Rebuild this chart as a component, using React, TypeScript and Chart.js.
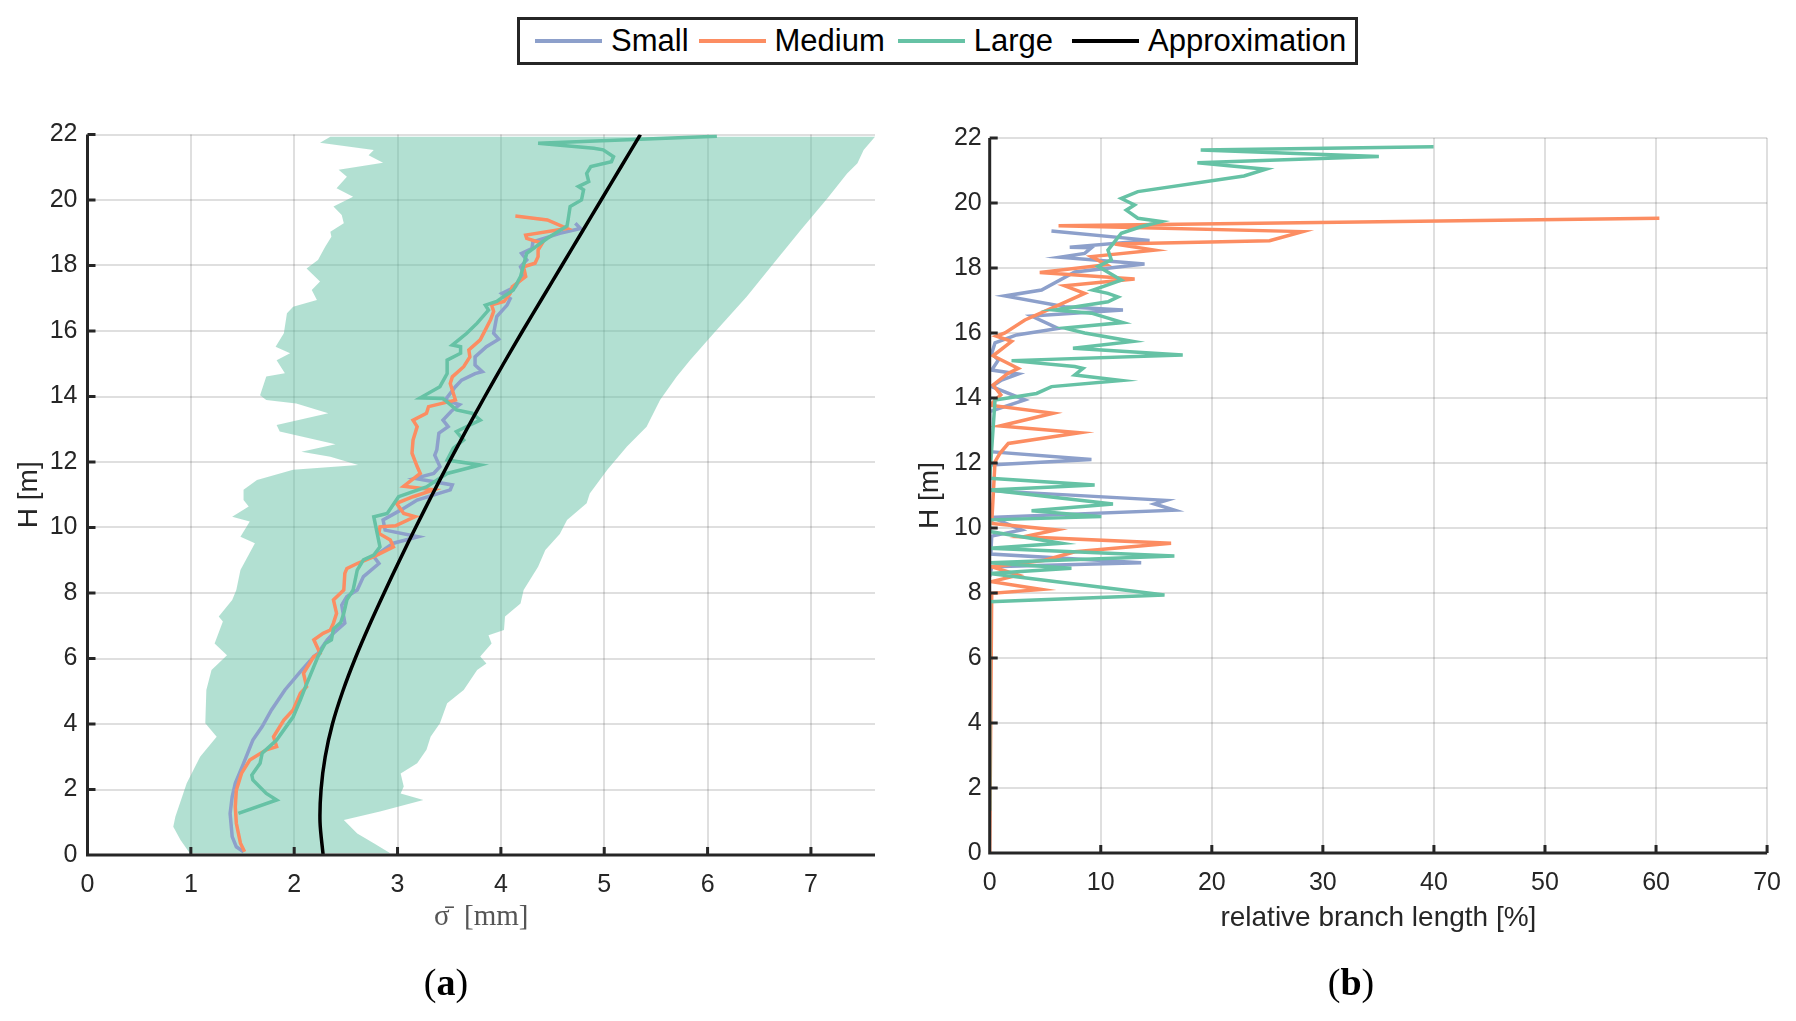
import { useEffect, useRef } from 'react'
import { Chart, registerables } from 'chart.js'
import type { Plugin } from 'chart.js'

Chart.register(...registerables)

const SMALL = '#8da0cb'
const MEDIUM = '#fc8d62'
const LARGE = '#66c2a5'
const BAND = 'rgba(102, 194, 165, 0.5)'
const AXIS = '#262626'
const GRID = 'rgba(38, 38, 38, 0.15)'
const SANS = "'Liberation Sans', Arial, Helvetica, sans-serif"
const SERIF = "'Liberation Serif', 'Times New Roman', serif"

// (a) mean sigma [mm] against height H [m]
const smallH = [0.10, 0.25, 0.56, 1.27, 1.78, 2.19, 2.80, 3.51, 3.92, 4.43, 5.04, 5.60, 6.06, 6.16, 6.57, 6.77, 7.08, 7.63, 7.89, 8.09, 8.50, 8.90, 9.11, 9.52, 9.72, 9.92, 10.23, 10.53, 10.84, 11.15, 11.30, 11.50, 11.65, 11.86, 12.21, 12.37, 12.88, 13.08, 13.28, 13.55, 13.75, 13.89, 14.30, 14.50, 14.70, 14.76, 14.96, 15.21, 15.52, 15.75, 15.93, 16.44, 16.79, 16.99, 17.15, 17.35, 17.76, 17.96, 18.17, 18.37, 18.52, 18.72, 18.98, 19.13, 19.29]
const smallSigma = [1.51, 1.44, 1.40, 1.38, 1.40, 1.43, 1.51, 1.60, 1.69, 1.78, 1.91, 2.06, 2.19, 2.23, 2.32, 2.38, 2.49, 2.46, 2.51, 2.61, 2.67, 2.82, 2.77, 2.96, 3.20, 2.88, 2.86, 3.03, 3.19, 3.51, 3.53, 3.17, 3.35, 3.41, 3.36, 3.38, 3.40, 3.49, 3.44, 3.52, 3.60, 3.46, 3.56, 3.62, 3.75, 3.82, 3.75, 3.75, 3.86, 3.98, 3.93, 3.96, 4.06, 4.09, 4.01, 4.14, 4.22, 4.19, 4.25, 4.20, 4.30, 4.31, 4.57, 4.77, 4.72]

const mediumH = [0.10, 0.36, 0.97, 1.47, 1.98, 2.49, 2.90, 3.21, 3.31, 3.61, 4.12, 4.43, 4.94, 5.14, 5.55, 6.06, 6.16, 6.57, 6.77, 6.87, 7.08, 7.38, 7.79, 8.09, 8.60, 8.75, 8.90, 9.11, 9.41, 9.62, 9.82, 10.02, 10.05, 10.33, 10.43, 10.74, 10.94, 11.15, 11.26, 11.65, 11.86, 12.27, 12.67, 13.08, 13.28, 13.49, 13.69, 13.79, 13.89, 14.40, 14.60, 14.91, 15.21, 15.42, 15.73, 16.34, 16.60, 16.80, 16.90, 17.15, 17.35, 17.66, 17.96, 18.07, 18.27, 18.47, 18.68, 18.83, 18.93, 19.13, 19.39, 19.51]
const mediumSigma = [1.52, 1.48, 1.44, 1.43, 1.44, 1.49, 1.57, 1.73, 1.83, 1.80, 1.90, 1.99, 2.06, 2.12, 2.09, 2.19, 2.25, 2.19, 2.28, 2.35, 2.38, 2.41, 2.38, 2.48, 2.49, 2.51, 2.61, 2.77, 2.96, 2.93, 2.82, 2.83, 2.98, 3.17, 3.06, 2.99, 3.15, 3.35, 3.06, 3.22, 3.19, 3.14, 3.15, 3.19, 3.15, 3.28, 3.30, 3.43, 3.56, 3.51, 3.53, 3.64, 3.70, 3.69, 3.80, 3.90, 3.93, 3.91, 4.03, 4.09, 4.11, 4.24, 4.22, 4.33, 4.36, 4.36, 4.40, 4.25, 4.24, 4.64, 4.45, 4.14]

const largeH = [1.27, 1.68, 1.88, 2.29, 2.44, 2.80, 3.11, 3.51, 4.22, 4.74, 5.14, 5.60, 6.06, 6.46, 6.57, 6.90, 7.10, 7.38, 7.79, 8.09, 8.70, 9.01, 9.16, 9.41, 10.33, 10.43, 10.94, 11.24, 11.65, 11.91, 12.06, 12.42, 12.67, 12.93, 13.28, 13.49, 13.59, 13.94, 13.96, 14.30, 14.70, 15.11, 15.32, 15.52, 15.57, 15.93, 16.24, 16.64, 16.79, 16.90, 17.25, 17.66, 18.37, 18.83, 19.21, 19.39, 19.80, 20.00, 20.31, 20.41, 20.56, 20.81, 21.02, 21.17, 21.32, 21.53, 21.58, 21.73, 21.95]
const largeSigma = [1.46, 1.83, 1.73, 1.60, 1.59, 1.67, 1.69, 1.83, 1.99, 2.06, 2.11, 2.17, 2.23, 2.30, 2.36, 2.38, 2.45, 2.48, 2.51, 2.57, 2.61, 2.67, 2.77, 2.83, 2.77, 2.90, 3.01, 3.28, 3.48, 3.80, 3.48, 3.54, 3.64, 3.57, 3.80, 3.72, 3.57, 3.44, 3.22, 3.41, 3.48, 3.48, 3.61, 3.61, 3.53, 3.67, 3.77, 3.88, 3.85, 3.96, 4.12, 4.19, 4.25, 4.45, 4.64, 4.65, 4.67, 4.78, 4.80, 4.75, 4.85, 4.83, 4.87, 5.07, 5.09, 4.99, 4.90, 4.36, 6.09]

const approxH = [0, 1, 2, 3, 4, 5, 6, 7, 8, 9, 10, 11, 12, 13, 14, 15, 16, 17, 18, 19, 20, 21, 22]
const approxSigma = [2.28, 2.25, 2.26, 2.30, 2.37, 2.47, 2.59, 2.725, 2.87, 3.02, 3.175, 3.335, 3.50, 3.67, 3.845, 4.025, 4.21, 4.40, 4.59, 4.78, 4.97, 5.16, 5.35]

// spread of the Large class: left edge (rising H), right edge (falling H)
const bandLeftH = [0.05, 0.46, 0.86, 1.17, 2.19, 3.00, 3.61, 4.02, 5.04, 5.65, 6.10, 6.46, 7.13, 7.28, 7.79, 8.09, 8.70, 9.52, 9.72, 10.18, 10.33, 10.64, 10.84, 11.15, 11.45, 11.76, 11.91, 12.16, 12.31, 12.54, 12.93, 13.13, 13.49, 13.79, 13.89, 14.04, 14.61, 14.71, 15.11, 15.32, 15.52, 15.93, 16.54, 16.74, 16.95, 17.25, 17.51, 17.91, 18.17, 18.57, 18.88, 19.03, 19.29, 19.54, 19.80, 20.10, 20.36, 20.71, 20.92, 21.14, 21.37, 21.53, 21.75, 21.93]
const bandLeftSigma = [0.99, 0.90, 0.83, 0.85, 0.96, 1.09, 1.25, 1.14, 1.15, 1.20, 1.35, 1.23, 1.31, 1.27, 1.40, 1.44, 1.48, 1.62, 1.48, 1.57, 1.40, 1.56, 1.51, 1.51, 1.64, 1.99, 2.62, 2.35, 2.07, 2.40, 1.86, 1.83, 2.33, 2.02, 1.73, 1.67, 1.73, 1.91, 1.83, 1.96, 1.82, 1.90, 1.93, 1.99, 2.22, 2.17, 2.25, 2.12, 2.23, 2.30, 2.36, 2.35, 2.48, 2.46, 2.38, 2.57, 2.41, 2.51, 2.43, 2.86, 2.72, 2.77, 2.25, 2.35]
const bandRightH = [21.93, 21.53, 21.12, 20.81, 20.05, 19.08, 18.07, 17.05, 15.93, 15.11, 14.60, 13.89, 13.08, 12.47, 11.76, 11.04, 10.74, 10.23, 9.80, 9.31, 8.80, 8.09, 7.68, 7.28, 6.87, 6.71, 6.46, 6.06, 5.85, 5.65, 5.04, 4.63, 4.02, 3.61, 3.21, 2.80, 2.49, 2.09, 1.88, 1.68, 1.33, 1.07, 0.66, 0.36, 0.05]
const bandRightSigma = [7.62, 7.51, 7.45, 7.35, 7.16, 6.90, 6.64, 6.38, 6.06, 5.83, 5.70, 5.54, 5.41, 5.22, 5.03, 4.86, 4.83, 4.64, 4.57, 4.43, 4.36, 4.22, 4.19, 4.04, 4.03, 3.88, 3.91, 3.80, 3.86, 3.77, 3.64, 3.48, 3.41, 3.32, 3.28, 3.19, 3.03, 3.06, 3.03, 3.25, 2.83, 2.48, 2.61, 2.77, 2.93]

// (b) relative branch length [%] against height H [m]
const branchSmallH = [8.50, 8.81, 8.93, 9.20, 9.75, 9.94, 10.33, 10.55, 10.74, 10.85, 11.15, 11.94, 12.11, 12.35, 13.58, 13.94, 14.35, 14.55, 14.74, 14.86, 15.17, 15.37, 15.70, 15.94, 16.14, 16.52, 16.71, 16.81, 17.14, 17.32, 17.88, 18.12, 18.33, 18.45, 18.62, 18.64, 18.85, 19.14]
const branchSmall = [0, 0.18, 13.64, 0.1, 0.18, 2.87, 0.18, 16.63, 14.84, 15.89, 0, 0, 9.16, 0, 0, 3.17, 0.18, 1.07, 2.57, 0.18, 0.78, 0.18, 0.48, 2.42, 6.16, 3.77, 12.0, 6.76, 1.37, 4.67, 7.66, 13.94, 6.31, 8.55, 9.15, 7.21, 14.39, 5.56]

const branchMediumH = [0, 7.99, 8.11, 8.35, 8.55, 8.81, 9.01, 9.27, 9.53, 9.73, 9.94, 10.14, 12.04, 12.30, 12.60, 12.93, 13.14, 13.53, 13.78, 14.10, 14.40, 14.75, 14.91, 15.30, 15.74, 15.90, 16.00, 16.40, 16.78, 17.22, 17.45, 17.66, 17.86, 18.10, 18.35, 18.55, 18.74, 18.84, 19.12, 19.30, 19.53]
const branchMedium = [0, 0.18, 4.67, 0.18, 2.57, 0.18, 4.96, 7.66, 16.33, 3.02, 6.01, 0.18, 0.48, 0.92, 1.67, 8.1, 0.92, 5.71, 0.03, 1.0, 0.3, 1.6, 2.57, 0.3, 1.97, 0.6, 1.37, 3.17, 5.7, 8.55, 6.76, 13.05, 4.51, 10.5, 9.16, 14.84, 11.25, 25.2, 28.15, 6.2, 60.3]

const branchLargeH = [1.30, 7.73, 7.94, 8.60, 8.76, 8.93, 9.14, 9.38, 9.53, 9.89, 10.25, 10.35, 10.53, 10.74, 11.17, 11.32, 11.53, 13.94, 14.14, 14.35, 14.54, 14.71, 14.91, 14.97, 15.15, 15.32, 15.53, 15.74, 16.00, 16.15, 16.32, 16.61, 16.71, 16.96, 17.11, 17.22, 17.32, 17.63, 18.05, 18.25, 18.55, 19.07, 19.27, 19.43, 19.53, 19.78, 19.94, 20.14, 20.35, 20.83, 21.04, 21.24, 21.43, 21.63, 21.73]
const branchLarge = [0, 0, 15.74, 0, 7.36, 0, 16.63, 0, 6.46, 0, 0, 10.05, 3.77, 11.1, 0, 9.45, 0, 0.48, 4.22, 5.57, 11.85, 7.66, 8.4, 7.66, 1.97, 17.38, 7.5, 12.89, 8.55, 6.76, 12.0, 9.16, 5.86, 10.65, 11.55, 10.65, 9.3, 11.85, 9.75, 10.95, 10.65, 11.85, 13.6, 15.44, 13.34, 12.3, 13.04, 11.85, 13.34, 22.9, 24.87, 18.7, 35.04, 19.0, 39.97]

const legendItems = [
  { label: 'Small', color: SMALL, gap: 10 },
  { label: 'Medium', color: MEDIUM, gap: 13 },
  { label: 'Large', color: LARGE, gap: 19 },
  { label: 'Approximation', color: '#000000', gap: 0 },
]

const zip = (xs: number[], ys: number[]) => xs.map((x, i) => ({ x, y: ys[i] }))

function lineSet(label: string, data: { x: number; y: number }[], color: string, tension = 0) {
  return {
    label,
    data,
    borderColor: color,
    backgroundColor: color,
    borderWidth: 3.5,
    pointRadius: 0,
    tension,
    fill: false,
  }
}

// axis lines and inward tick marks, drawn on top like the source figure
const axesOnTop: Plugin = {
  id: 'axesOnTop',
  afterDraw(chart) {
    const { ctx, chartArea: a, scales } = chart
    const x = scales.x
    const y = scales.y
    ctx.save()
    ctx.strokeStyle = AXIS
    ctx.lineWidth = 3
    ctx.beginPath()
    ctx.moveTo(a.left, a.top)
    ctx.lineTo(a.left, a.bottom)
    ctx.lineTo(a.right, a.bottom)
    x.ticks.forEach((t) => {
      const px = x.getPixelForValue(t.value)
      ctx.moveTo(px, a.bottom)
      ctx.lineTo(px, a.bottom - 8)
    })
    y.ticks.forEach((t) => {
      const py = y.getPixelForValue(t.value)
      ctx.moveTo(a.left, py)
      ctx.lineTo(a.left + 8, py)
    })
    ctx.stroke()
    ctx.restore()
  },
}

interface AxisCfg {
  xMax: number
  xStep: number
  xTitle: string
  xTitleFont: { family: string; size: number }
  xTitleColor: string
  yAxisWidth: number
  xAxisHeight: number
  padding: { top: number; right: number; left: number; bottom: number }
  yTitlePad: number
  yTickPad: number
}

function makeOptions(c: AxisCfg): any {
  const tickFont = { family: SANS, size: 25 }
  return {
    responsive: false,
    animation: false,
    layout: { padding: c.padding },
    plugins: { legend: { display: false }, tooltip: { enabled: false } },
    scales: {
      x: {
        type: 'linear',
        min: 0,
        max: c.xMax,
        afterFit: (s: any) => { s.height = c.xAxisHeight },
        ticks: { stepSize: c.xStep, includeBounds: false, padding: 15, color: AXIS, font: tickFont },
        grid: { color: GRID, lineWidth: 2, drawTicks: false },
        border: { display: false },
        title: {
          display: true,
          text: c.xTitle,
          color: c.xTitleColor,
          font: c.xTitleFont,
          padding: { top: 0, bottom: 35 },
        },
      },
      y: {
        type: 'linear',
        min: 0,
        max: 22,
        afterFit: (s: any) => { s.width = c.yAxisWidth },
        ticks: { stepSize: 2, padding: c.yTickPad, color: AXIS, font: tickFont },
        grid: { color: GRID, lineWidth: 2, drawTicks: false },
        border: { display: false },
        title: {
          display: true,
          text: 'H [m]',
          color: AXIS,
          font: { family: SANS, size: 28 },
          padding: { top: c.yTitlePad, bottom: 0 },
        },
      },
    },
  }
}

function Legend() {
  return (
    <div
      style={{
        position: 'absolute',
        left: 517,
        top: 17,
        width: 841,
        height: 48,
        boxSizing: 'border-box',
        border: `3px solid ${AXIS}`,
        display: 'flex',
        alignItems: 'center',
        paddingLeft: 15,
        fontFamily: SANS,
        fontSize: 31,
        color: '#000',
        background: '#fff',
      }}
    >
      {legendItems.map((it) => (
        <div key={it.label} style={{ display: 'flex', alignItems: 'center', marginRight: it.gap }}>
          <span style={{ display: 'inline-block', width: 67, height: 4, background: it.color, marginRight: 9 }} />
          <span>{it.label}</span>
        </div>
      ))}
    </div>
  )
}

export default function App() {
  const leftRef = useRef<HTMLCanvasElement>(null)
  const rightRef = useRef<HTMLCanvasElement>(null)

  useEffect(() => {
    if (!leftRef.current || !rightRef.current) return

    const band = [...zip(bandLeftSigma, bandLeftH), ...zip(bandRightSigma, bandRightH)]

    const left = new Chart(leftRef.current, {
      type: 'line',
      data: {
        datasets: [
          lineSet('Approximation', zip(approxSigma, approxH), '#000000', 0.3),
          lineSet('Large', zip(largeSigma, largeH), LARGE),
          lineSet('Medium', zip(mediumSigma, mediumH), MEDIUM),
          lineSet('Small', zip(smallSigma, smallH), SMALL),
          {
            label: 'Large spread',
            data: band,
            borderWidth: 0,
            borderColor: 'rgba(0,0,0,0)',
            backgroundColor: BAND,
            pointRadius: 0,
            fill: 'shape',
          },
        ],
      },
      options: makeOptions({
        xMax: 7.62,
        xStep: 1,
        xTitle: 'σ̄  [mm]',
        xTitleFont: { family: SERIF, size: 29 },
        xTitleColor: '#555555',
        yAxisWidth: 87.5,
        xAxisHeight: 115,
        padding: { top: 34.5, right: 25, left: 0, bottom: 0 },
        yTitlePad: 12,
        yTickPad: 10,
      }),
      plugins: [axesOnTop],
    } as any)

    const right = new Chart(rightRef.current, {
      type: 'line',
      data: {
        datasets: [
          lineSet('Large', zip(branchLarge, branchLargeH), LARGE),
          lineSet('Medium', zip(branchMedium, branchMediumH), MEDIUM),
          lineSet('Small', zip(branchSmall, branchSmallH), SMALL),
        ],
      },
      options: makeOptions({
        xMax: 70,
        xStep: 10,
        xTitle: 'relative branch length [%]',
        xTitleFont: { family: SANS, size: 28 },
        xTitleColor: AXIS,
        yAxisWidth: 89.7,
        xAxisHeight: 117,
        padding: { top: 38, right: 27.3, left: 0, bottom: 0 },
        yTitlePad: 13,
        yTickPad: 8,
      }),
      plugins: [axesOnTop],
    } as any)

    return () => {
      left.destroy()
      right.destroy()
    }
  }, [])

  const caption = {
    position: 'absolute' as const,
    top: 956,
    width: 200,
    textAlign: 'center' as const,
    fontFamily: SERIF,
    fontSize: 38,
    lineHeight: '52px',
    color: '#000',
  }

  return (
    <div style={{ position: 'absolute', left: 0, top: 0, width: 1796, height: 1021, background: '#fff', overflow: 'hidden' }}>
      <Legend />
      <canvas ref={leftRef} width={900} height={870} style={{ position: 'absolute', left: 0, top: 100 }} />
      <canvas ref={rightRef} width={896} height={870} style={{ position: 'absolute', left: 900, top: 100 }} />
      <div style={{ ...caption, left: 346 }}>(<b>a</b>)</div>
      <div style={{ ...caption, left: 1251 }}>(<b>b</b>)</div>
    </div>
  )
}
